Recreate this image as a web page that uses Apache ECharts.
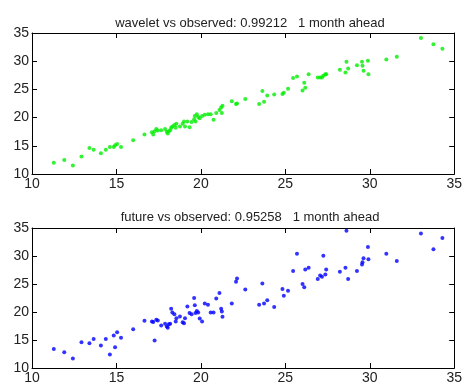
<!DOCTYPE html>
<html>
<head>
<meta charset="utf-8">
<script src="https://cdn.jsdelivr.net/npm/echarts@6/dist/echarts.min.js"></script>
<style>
  html, body { margin: 0; padding: 0; background: #fff; }
  #chart { width: 465px; height: 385px; }
</style>
</head>
<body>
<div id="chart"></div>
<script>
// observed values (x of both plots)
const observed = [
  11.29, 11.91, 12.42, 12.93, 13.40, 13.65, 14.08, 14.37, 14.61, 14.84,
  14.92, 15.04, 15.27, 15.99, 16.66, 17.10, 17.18, 17.26, 17.36, 17.45,
  17.65, 17.88, 17.98, 18.04, 18.10, 18.18, 18.24, 18.31, 18.43, 18.51,
  18.55, 18.76, 18.92, 19.00, 19.06, 19.20, 19.33, 19.45, 19.60, 19.64,
  19.68, 19.76, 19.84, 19.93, 20.07, 20.23, 20.42, 20.58, 20.75, 20.91,
  21.10, 21.20, 21.24, 21.28, 21.83, 22.08, 22.14, 22.63, 23.45, 23.64,
  23.74, 23.93, 24.34, 24.83, 24.91, 25.16, 25.46, 25.69, 26.02, 26.12,
  26.18, 26.38, 26.92, 27.06, 27.17, 27.25, 27.37, 27.42, 28.23, 28.56,
  28.62, 28.72, 29.24, 29.54, 29.57, 29.63, 29.89, 29.92, 30.98, 31.60,
  33.03, 33.77, 34.30
];
// wavelet forecast
const wavelet = [
  12.0, 12.5, 11.5, 13.1, 14.6, 14.3, 13.7, 14.3, 14.8, 14.8,
  15.1, 15.3, 14.8, 16.0, 17.0, 17.4, 17.0, 17.6, 18.0, 17.7,
  17.75, 18.0, 17.5, 17.2, 17.6, 17.75, 18.2, 18.4, 18.7, 18.2,
  18.9, 18.4, 18.9, 19.3, 18.4, 19.3, 18.3, 19.2, 19.7, 20.3,
  19.3, 20.6, 20.1, 19.9, 20.3, 20.5, 20.6, 20.6, 19.6, 20.8,
  21.35, 21.8, 20.8, 22.1, 22.9, 22.4, 22.5, 23.3, 22.4, 24.7,
  22.8, 23.9, 24.1, 24.2, 24.4, 25.1, 27.0, 27.3, 24.8, 26.2,
  25.3, 27.7, 27.1, 27.1, 27.1, 27.4, 27.7, 27.7, 28.5, 28.0,
  29.9, 28.7, 29.3, 29.9, 29.2, 28.3, 30.1, 27.7, 30.3, 30.8,
  34.1, 33.0, 32.2
];
// future forecast
const future = [
  13.4, 12.8, 11.7, 14.6, 14.4, 15.2, 14.0, 15.2, 12.4, 15.8,
  13.7, 16.4, 15.4, 16.9, 18.45, 18.3, 18.2, 14.9, 18.6, 18.5,
  17.6, 17.9, 17.4, 17.2, 17.8, 17.9, 20.6, 19.9, 19.6, 18.3,
  18.9, 19.2, 18.15, 18.0, 18.9, 21.0, 19.8, 19.6, 22.5, 21.2,
  19.8, 20.2, 19.9, 18.85, 18.3, 21.5, 21.3, 19.9, 19.9, 22.4,
  23.4, 20.6, 20.1, 19.15, 21.5, 25.4, 26.0, 24.0, 21.3, 25.1,
  21.5, 22.1, 20.9, 24.1, 22.9, 23.8, 27.3, 30.4, 25.0, 24.4,
  27.6, 27.9, 25.9, 26.5, 26.3, 30.05, 26.7, 27.6, 27.2, 27.9,
  34.5, 25.9, 27.3, 28.5, 28.9, 29.6, 31.6, 29.4, 30.4, 29.1,
  34.0, 31.2, 33.2
];
const titles = [
  'wavelet vs observed: 0.99212   1 month ahead',
  'future vs observed: 0.95258   1 month ahead'
];

const chart = echarts.init(document.getElementById('chart'));
const font = 'Liberation Sans, Arial, sans-serif';

function makeAxis(gridIndex, position, showLabels) {
  return {
    type: 'value', gridIndex: gridIndex, position: position,
    min: 10, max: 35, interval: 5,
    axisLine: { show: true, onZero: false, lineStyle: { color: '#000', width: 1 } },
    axisTick: { show: true, inside: true, length: 5, lineStyle: { color: '#000' } },
    axisLabel: { show: showLabels, color: '#222', fontSize: 14, fontFamily: font, margin: 3 },
    splitLine: { show: false }
  };
}

const option = {
  backgroundColor: '#fff',
  animation: false,
  title: [
    { text: titles[0], left: 245, top: 12, textAlign: 'center',
      textStyle: { fontSize: 13, fontWeight: 'normal', color: '#222', fontFamily: font } },
    { text: titles[1], left: 245, top: 206, textAlign: 'center',
      textStyle: { fontSize: 13, fontWeight: 'normal', color: '#222', fontFamily: font } }
  ],
  grid: [
    { left: 32, top: 33, width: 427, height: 141 },
    { left: 32, top: 228, width: 427, height: 144 }
  ],
  xAxis: [
    makeAxis(0, 'bottom', true),
    makeAxis(0, 'top', false),
    makeAxis(1, 'bottom', true),
    makeAxis(1, 'top', false)
  ],
  yAxis: [
    makeAxis(0, 'left', true),
    makeAxis(0, 'right', false),
    makeAxis(1, 'left', true),
    makeAxis(1, 'right', false)
  ],
  series: [
    {
      type: 'scatter', xAxisIndex: 0, yAxisIndex: 0,
      symbolSize: 4, itemStyle: { color: '#00ee00' },
      data: observed.map((x, i) => [x, wavelet[i]])
    },
    {
      type: 'scatter', xAxisIndex: 2, yAxisIndex: 2,
      symbolSize: 4, itemStyle: { color: '#0000ff' },
      data: observed.map((x, i) => [x, future[i]])
    }
  ]
};

chart.setOption(option);
</script>
</body>
</html>
